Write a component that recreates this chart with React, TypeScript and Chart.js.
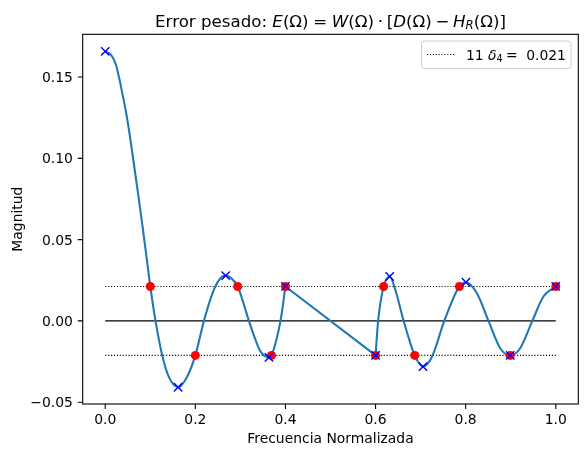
import React, { useEffect, useRef } from "react";
import { Chart, registerables } from "chart.js";

Chart.register(...registerables);

const FONT = '"DejaVu Sans", sans-serif';

// Error curve, passband (0 .. 0.4)
const passX = [0, 0.0126, 0.0237, 0.031, 0.0385, 0.0459, 0.0532, 0.0607, 0.068, 0.0753, 0.0829, 0.09, 0.1, 0.1116, 0.1263, 0.141, 0.1617, 0.1817, 0.2, 0.219, 0.238, 0.252, 0.2674, 0.28, 0.294, 0.319, 0.332, 0.345, 0.3634, 0.369, 0.389, 0.4];
const passY = [0.1658, 0.1638, 0.1576, 0.1494, 0.1392, 0.1289, 0.1166, 0.1022, 0.0879, 0.0735, 0.058, 0.043, 0.0212, 0.0, -0.0209, -0.0343, -0.0408, -0.0343, -0.0212, 0.0, 0.017, 0.025, 0.0279, 0.0262, 0.0212, 0.0, -0.0105, -0.0189, -0.0224, -0.0212, 0.0, 0.0212];

// Error curve, stopband (0.6 .. 1.0)
const stopX = [0.6, 0.6057, 0.618, 0.6314, 0.644, 0.6624, 0.687, 0.7053, 0.7253, 0.7526, 0.786, 0.8006, 0.825, 0.8507, 0.8766, 0.899, 0.921, 0.948, 0.9726, 1.0];
const stopY = [-0.0212, 0.0, 0.0212, 0.0273, 0.019, 0.0, -0.0212, -0.0281, -0.022, 0.0, 0.0212, 0.0238, 0.017, 0.0, -0.0168, -0.0212, -0.0168, 0.0, 0.015, 0.0212];

// Extremal grid frequencies (red dots)
const redX = [0.1, 0.2, 0.294, 0.369, 0.4, 0.6, 0.618, 0.687, 0.786, 0.899, 1.0];
const redY = [0.0212, -0.0212, 0.0212, -0.0212, 0.0212, -0.0212, 0.0212, -0.0212, 0.0212, -0.0212, 0.0212];

// Actual extrema (blue crosses)
const blueX = [0, 0.1617, 0.2674, 0.3634, 0.4, 0.6, 0.6314, 0.7053, 0.8006, 0.899, 1.0];
const blueY = [0.1658, -0.0408, 0.0279, -0.0224, 0.0212, -0.0212, 0.0273, -0.0281, 0.0238, -0.0212, 0.0212];

const delta = 0.0212;
const lineSpanX = [0, 1];
const deltaText = "0.021";

const xTicks = [0, 0.2, 0.4, 0.6, 0.8, 1.0];
const xTickLabels = ["0.0", "0.2", "0.4", "0.6", "0.8", "1.0"];
const yTicks = [-0.05, 0, 0.05, 0.1, 0.15];
const yTickLabels = ["−0.05", "0.00", "0.05", "0.10", "0.15"];

const xLimits = [-0.05, 1.05];
const yLimits = [-0.0511, 0.1763];

const pts = (xs: number[], ys: number[]) => xs.map((x, i) => ({ x, y: ys[i] }));

type Run = { t: string; font: string; dy?: number; gap?: number };

function drawRuns(ctx: CanvasRenderingContext2D, runs: Run[], x: number, baseline: number, align: "center" | "left") {
  let total = 0;
  for (const r of runs) {
    ctx.font = r.font;
    total += ctx.measureText(r.t).width + (r.gap || 0);
  }
  let cx = align === "center" ? x - total / 2 : x;
  ctx.textAlign = "left";
  ctx.textBaseline = "alphabetic";
  for (const r of runs) {
    ctx.font = r.font;
    ctx.fillText(r.t, cx, baseline + (r.dy || 0));
    cx += ctx.measureText(r.t).width + (r.gap || 0);
  }
}

const decorPlugin = {
  id: "decor",
  afterDraw(chart: any) {
    const ctx: CanvasRenderingContext2D = chart.ctx;
    const a = chart.chartArea;
    const xs = chart.scales.x;
    const ys = chart.scales.y;
    ctx.save();
    ctx.setLineDash([]);

    // frame
    ctx.strokeStyle = "#000";
    ctx.lineWidth = 1.1;
    ctx.strokeRect(a.left, a.top, a.right - a.left, a.bottom - a.top);

    // ticks + labels
    const TF = `13.9px ${FONT}`;
    ctx.fillStyle = "#000";
    ctx.font = TF;
    ctx.beginPath();
    xTicks.forEach((v) => {
      const px = xs.getPixelForValue(v);
      ctx.moveTo(px, a.bottom);
      ctx.lineTo(px, a.bottom + 4.9);
    });
    yTicks.forEach((v) => {
      const py = ys.getPixelForValue(v);
      ctx.moveTo(a.left, py);
      ctx.lineTo(a.left - 4.9, py);
    });
    ctx.stroke();

    ctx.textBaseline = "alphabetic";
    ctx.textAlign = "center";
    xTicks.forEach((v, i) => {
      ctx.fillText(xTickLabels[i], xs.getPixelForValue(v), a.bottom + 20.3);
    });
    ctx.textAlign = "right";
    yTicks.forEach((v, i) => {
      ctx.fillText(yTickLabels[i], a.left - 9.8, ys.getPixelForValue(v) + 5.05);
    });

    // axis titles
    ctx.textAlign = "center";
    ctx.fillText("Frecuencia Normalizada", (a.left + a.right) / 2, 443.4);
    ctx.save();
    ctx.translate(22, (a.top + a.bottom) / 2);
    ctx.rotate(-Math.PI / 2);
    ctx.fillText("Magnitud", 0, 0);
    ctx.restore();

    // title
    const N = `16.67px ${FONT}`;
    const I = `italic 16.67px ${FONT}`;
    const S = `italic 11.7px ${FONT}`;
    const rel = 4.6;
    const bin = 3.7;
    drawRuns(
      ctx,
      [
        { t: "Error pesado: ", font: N },
        { t: "E", font: I },
        { t: "(Ω)", font: N, gap: rel },
        { t: "=", font: N, gap: rel },
        { t: "W", font: I },
        { t: "(Ω)", font: N, gap: bin },
        { t: "·", font: N, gap: bin },
        { t: "[", font: N },
        { t: "D", font: I },
        { t: "(Ω)", font: N, gap: bin },
        { t: "−", font: N, gap: bin },
        { t: "H", font: I },
        { t: "R", font: S, dy: 2.5 },
        { t: "(Ω)]", font: N },
      ],
      (a.left + a.right) / 2,
      26.6,
      "center"
    );

    // legend
    const lx0 = 421.5, ly0 = 41, lx1 = 571, ly1 = 68.5, r = 3;
    ctx.beginPath();
    ctx.moveTo(lx0 + r, ly0);
    ctx.lineTo(lx1 - r, ly0);
    ctx.quadraticCurveTo(lx1, ly0, lx1, ly0 + r);
    ctx.lineTo(lx1, ly1 - r);
    ctx.quadraticCurveTo(lx1, ly1, lx1 - r, ly1);
    ctx.lineTo(lx0 + r, ly1);
    ctx.quadraticCurveTo(lx0, ly1, lx0, ly1 - r);
    ctx.lineTo(lx0, ly0 + r);
    ctx.quadraticCurveTo(lx0, ly0, lx0 + r, ly0);
    ctx.closePath();
    ctx.fillStyle = "rgba(255,255,255,0.8)";
    ctx.fill();
    ctx.strokeStyle = "#cccccc";
    ctx.lineWidth = 1;
    ctx.stroke();

    ctx.beginPath();
    ctx.strokeStyle = "#000";
    ctx.lineWidth = 1.1;
    ctx.setLineDash([1.1, 1.8]);
    ctx.moveTo(427, 54.5);
    ctx.lineTo(454.8, 54.5);
    ctx.stroke();
    ctx.setLineDash([]);

    ctx.fillStyle = "#000";
    const LN = `13.9px ${FONT}`;
    const LI = `italic 13.9px ${FONT}`;
    const LS = `9.7px ${FONT}`;
    drawRuns(
      ctx,
      [
        { t: "11 ", font: LN },
        { t: "δ", font: LI },
        { t: "4", font: LS, dy: 2.2, gap: 3.2 },
        { t: "=", font: LN, gap: 8.6 },
        { t: deltaText, font: LN },
      ],
      466,
      59.5,
      "left"
    );
    ctx.restore();
  },
};

export default function App() {
  const ref = useRef<HTMLCanvasElement | null>(null);

  useEffect(() => {
    if (!ref.current) return;
    const blue = "#1f77b4";
    const passPts = pts(passX, passY);
    const stopPts = pts(stopX, stopY);
    const chart = new Chart(ref.current, {
      type: "line",
      data: {
        datasets: [
          {
            data: pts(blueX, blueY),
            showLine: false,
            pointStyle: "crossRot",
            pointRadius: 5.9,
            pointBorderColor: "#0000ff",
            pointBackgroundColor: "#0000ff",
            pointBorderWidth: 1.4,
          },
          {
            data: pts(redX, redY),
            showLine: false,
            pointStyle: "circle",
            pointRadius: 4.5,
            pointBorderWidth: 0,
            pointBackgroundColor: "#ff0000",
            pointBorderColor: "#ff0000",
          },
          {
            data: passPts,
            borderColor: blue,
            borderWidth: 2.08,
            pointRadius: 0,
            cubicInterpolationMode: "monotone",
          },
          {
            data: [passPts[passPts.length - 1], stopPts[0]],
            borderColor: blue,
            borderWidth: 2.08,
            pointRadius: 0,
            tension: 0,
          },
          {
            data: stopPts,
            borderColor: blue,
            borderWidth: 2.08,
            pointRadius: 0,
            cubicInterpolationMode: "monotone",
          },
          {
            data: pts(lineSpanX, [0, 0]),
            borderColor: "#000",
            borderWidth: 1.1,
            pointRadius: 0,
          },
          {
            data: pts(lineSpanX, [delta, delta]),
            borderColor: "#000",
            borderWidth: 1.1,
            borderDash: [1.1, 1.8],
            pointRadius: 0,
          },
          {
            data: pts(lineSpanX, [-delta, -delta]),
            borderColor: "#000",
            borderWidth: 1.1,
            borderDash: [1.1, 1.8],
            pointRadius: 0,
          },
        ],
      },
      options: {
        animation: false,
        responsive: true,
        maintainAspectRatio: false,
        events: [],
        layout: { padding: { top: 34.3, right: 8.7, left: 82.7, bottom: 53 } },
        plugins: {
          legend: { display: false },
          title: { display: false },
          tooltip: { enabled: false },
        },
        scales: {
          x: { type: "linear", display: false, min: xLimits[0], max: xLimits[1] },
          y: { type: "linear", display: false, min: yLimits[0], max: yLimits[1] },
        },
      } as any,
      plugins: [decorPlugin],
    });
    return () => chart.destroy();
  }, []);

  return (
    <div style={{ position: "absolute", left: 0, top: 0, width: "587px", height: "457px" }}>
      <canvas ref={ref} />
    </div>
  );
}
